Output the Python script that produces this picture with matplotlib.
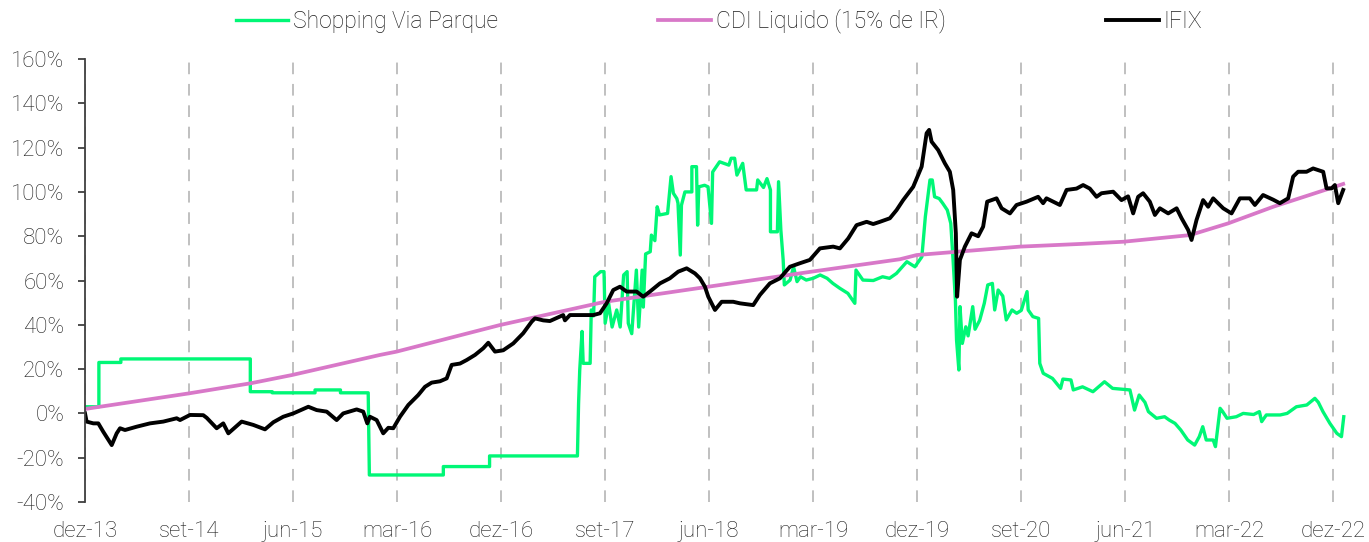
import numpy as np
import matplotlib
matplotlib.use("Agg")
import matplotlib.pyplot as plt
from matplotlib.ticker import FuncFormatter

# months since dez-13, cumulative return in %
via_parque_m = [0.0, 1.2, 1.2, 3.1, 3.1, 14.3, 14.3, 16.2, 16.2, 19.9, 19.9, 22.1, 22.1, 24.5,
                24.6, 31.0, 31.0, 35.0, 35.0, 42.6, 42.7, 42.8, 43.0, 43.1, 43.7, 43.8, 44.0,
                44.1, 44.6, 44.9, 45.0, 45.3, 45.6, 46.0, 46.3, 46.6, 46.9, 47.0, 47.3, 47.7,
                47.9, 48.2, 48.3, 48.5, 48.9, 49.0, 49.3, 49.5, 49.7, 50.4, 50.7, 50.9, 51.2,
                51.3, 51.5, 51.6, 51.9, 52.5, 52.5, 52.9, 53.0, 53.1, 53.6, 53.9, 54.2, 54.3,
                54.9, 55.7, 55.9, 56.2, 56.4, 56.9, 57.2, 58.1, 58.2, 58.7, 59.0, 59.3, 59.3,
                59.9, 60.0, 60.2, 60.4, 60.5, 61.0, 61.3, 61.6, 61.9, 62.4, 63.0, 63.6, 64.2,
                64.7, 65.3, 66.0, 66.6, 66.7, 67.3, 68.2, 69.0, 69.6, 70.2, 71.1, 71.8, 72.4,
                72.7, 73.1, 73.3, 73.5, 73.9, 74.2, 74.6, 74.9, 75.1, 75.3, 75.4, 75.6, 75.7,
                75.9, 76.2, 76.4, 76.8, 77.0, 77.4, 77.8, 78.1, 78.5, 78.7, 79.0, 79.4, 79.7,
                80.2, 80.6, 81.0, 81.5, 81.6, 82.0, 82.5, 82.6, 82.9, 83.7, 84.4, 84.6, 85.3,
                85.5, 86.3, 87.2, 88.2, 88.9, 90.4, 90.8, 91.2, 91.7, 92.0, 92.7, 93.4, 93.8,
                94.3, 94.8, 95.4, 96.0, 96.4, 96.7, 97.0, 97.6, 97.8, 98.2, 98.4, 98.8, 99.6,
                100.2, 101.1, 101.6, 101.8, 102.2, 103.4, 104.0, 104.8, 105.7, 106.4, 106.7,
                107.1, 107.7, 108.3, 108.7, 108.9]
via_parque = [3, 3, 23, 23, 24.6, 24.6, 9.8, 9.8, 9.3, 9.3, 10.6, 10.6, 9.3, 9.3,
              -27.8, -27.8, -24, -24, -19.2, -19.2, 4.5, 19.6, 37, 22.6, 22.6, 46.7, 44,
              61.7, 64, 64, 40.7, 49.7, 39, 46.7, 39, 62.5, 64, 40.7, 36, 64.7,
              39, 64.7, 48, 72, 73, 80.5, 78, 93.3, 89.6, 90.3, 106.9, 99.4, 97,
              94.9, 71.5, 94, 100, 100, 111.4, 111.4, 85, 102.3, 103, 102.3, 85.8, 109,
              113.6, 112.1, 115.2, 115.2, 107.6, 112.9, 100.9, 100.9, 105.4, 102, 106, 100.9, 82,
              82, 104.6, 82.8, 69.3, 58, 60.2, 66.2, 59.5, 61.7, 60.2, 61, 62.5, 61,
              58.7, 56.5, 54.2, 49.7, 64.7, 60.2, 60, 61.7, 61, 63.2, 68.5, 66.2, 70.7,
              88.8, 105.4, 105.4, 97.8, 97, 94.9, 91.8, 85.8, 69.3, 51.2, 33.1, 19.6, 48.2,
              31.6, 39.1, 35, 48.2, 38, 42, 49.7, 58, 58.7, 46.7, 55.7, 53, 42.2,
              46.7, 45.2, 46.5, 55, 46.7, 43.7, 42.9, 22.6, 18.1, 15.8, 11.3, 15.5, 15.1,
              10.6, 12, 9.8, 14.3, 11.3, 10.6, 1.5, 8.3, 5, 0.8, -2.2, -1.5, -3,
              -4.5, -7.5, -12, -14.3, -10.5, -6, -12, -12, -15, 2.3, 1, -2.2, -1.5,
              0, -0.5, 0.8, -3.7, -0.7, -0.7, 0, 3, 3.8, 6.8, 5,
              0.8, -4.5, -9, -10.5, -1.5]

ifix_m = [0.0, 0.14, 0.72, 1.15, 1.58, 2.31, 2.74, 3.03, 3.46, 4.47, 5.62, 6.77, 7.93, 8.22,
          9.08, 10.23, 10.53, 11.39, 11.96, 12.4, 13.55, 14.56, 15.57, 16.29, 17.15, 18.02,
          19.32, 20.04, 20.91, 21.77, 22.34, 23.5, 24.07, 24.42, 24.65, 25.23, 25.8, 26.24,
          26.67, 27.25, 27.97, 28.83, 29.41, 29.99, 30.71, 31.29, 31.72, 32.44, 33.02, 33.74,
          34.45, 34.89, 35.47, 36.18, 37.05, 37.91, 38.64, 38.93, 39.64, 40.22, 41.37, 41.52,
          41.95, 42.82, 43.97, 44.55, 45.13, 45.7, 46.28, 46.86, 47.72, 48.29, 48.87, 49.74,
          50.6, 51.32, 52.05, 52.77, 53.2, 53.63, 53.92, 54.5, 55.08, 56.08, 56.66, 57.81,
          58.39, 59.25, 60.12, 60.98, 61.85, 62.71, 63.58, 64.73, 65.31, 66.03, 66.75, 67.62,
          68.19, 68.77, 69.63, 70.21, 70.78, 71.65, 72.38, 72.81, 73.03, 73.24, 73.81, 74.39,
          74.82, 75.11, 75.34, 75.45, 75.69, 76.12, 76.7, 77.27, 77.7, 78.05, 78.43, 78.86,
          79.3, 80.02, 80.59, 81.46, 82.46, 82.89, 83.18, 84.34, 84.92, 85.78, 86.35, 86.93,
          87.51, 87.94, 88.95, 89.67, 90.24, 90.68, 91.11, 91.54, 92.12, 92.56, 92.99, 93.71,
          94.44, 94.87, 95.44, 95.73, 96.16, 96.73, 97.17, 97.6, 98.47, 99.19, 99.91, 100.77,
          101.21, 101.92, 102.79, 103.37, 104.09, 104.52, 104.95, 105.68, 106.25, 107.12,
          107.41, 107.85, 108.13, 108.42, 108.85]
ifix = [0, -3.7, -4.5, -4.5, -8.3, -14.3, -9, -6.7, -7.5, -6, -4.5, -3.7, -2.2, -3,
        -0.7, -0.8, -2, -6.7, -4.5, -9, -3.7, -5.2, -7.2, -4, -1.5, 0,
        3, 1.5, 0.8, -3, 0, 1.8, 0.8, -4.5, -1.5, -3, -9, -6.5,
        -6.7, -1.5, 3.8, 8.3, 12, 13.9, 14.5, 15.8, 21.9, 22.5, 24.1, 26.4,
        29.4, 31.9, 27.9, 28.5, 31.6, 36.2, 41.4, 42.9, 42, 41.7, 44.4, 42,
        44.4, 44.4, 44.4, 45.2, 49.7, 55.7, 57.2, 55, 55, 52.7, 55, 58.7,
        61, 64, 65.5, 63.2, 61, 57.2, 52.7, 46.7, 50.4, 50.4, 49.7, 48.9,
        53.5, 58.7, 61, 66.2, 67.8, 69.3, 74.5, 75.3, 74.5, 79, 85, 86.5,
        85.5, 86.5, 88.1, 91.8, 96.3, 102.3, 111.4, 126.5, 128, 122.7, 118.9, 112.9,
        109.1, 100.9, 81.3, 52.7, 69.3, 75.3, 81.3, 80, 84.3, 95.6, 96.3, 97.1,
        92.6, 90.3, 94.1, 95.6, 97.8, 94.9, 97.1, 94.1, 100.9, 101.5, 103.1, 101.5,
        97.8, 99.4, 100.1, 96.3, 98, 90.3, 97.8, 99.4, 95.6, 89.6, 92.6, 90.3,
        92.6, 88.1, 82.8, 78.3, 87.3, 96.3, 93.3, 97.1, 92.6, 90.3, 97.1, 97.1,
        94.1, 98.6, 96.5, 94.9, 97.1, 106.9, 109.1, 109.1, 110.6, 109.1,
        101.6, 101.6, 103.1, 94.9, 100.9]

cdi_m = [0.0, 8.94, 14.33, 17.88, 25.52, 26.96, 35.9, 44.98, 53.92, 62.86, 70.5, 71.95,
         80.88, 86.07, 89.82, 95.59, 98.9, 102.8, 107.7, 108.85]
cdi = [2, 9, 13.6, 17.3, 26.4, 27.9, 39.9, 50.4, 57.2, 64, 69.6, 71.5,
       75.3, 76.5, 77.5, 80.5, 85.8, 93.3, 101.6, 103.6]

tick_pos = [0, 9, 18, 27, 36, 45, 54, 63, 72, 81, 90, 99, 108]
tick_lbl = ["dez-13", "set-14", "jun-15", "mar-16", "dez-16", "set-17", "jun-18",
            "mar-19", "dez-19", "set-20", "jun-21", "mar-22", "dez-22"]

plt.rcParams["font.family"] = ["Roboto", "DejaVu Sans"]
plt.rcParams["font.weight"] = "light"

fig = plt.figure(figsize=(13.69, 5.42), dpi=100)
ax = fig.add_axes([0.0621, 0.0738, 0.922, 0.8173])

ax.plot(via_parque_m, via_parque, color="#00F776", lw=2.4, label="Shopping Via Parque")
ax.plot(cdi_m, cdi, color="#D878C8", lw=2.7, label="CDI Liquido (15% de IR)")
ax.plot(ifix_m, ifix, color="black", lw=2.8, label="IFIX")

ax.set_xlim(0, 109.2)
ax.set_ylim(-40, 160)
ax.set_yticks(np.arange(-40, 161, 20))
ax.yaxis.set_major_formatter(FuncFormatter(lambda v, p: f"{v:.0f}%"))
ax.set_xticks(tick_pos)
ax.set_xticklabels(tick_lbl)

for s in ["top", "right", "bottom"]:
    ax.spines[s].set_visible(False)
ax.spines["left"].set_color("#404040")
ax.spines["left"].set_linewidth(1.3)

ax.tick_params(axis="y", length=5, width=1.3, color="#404040", labelsize=16,
               labelcolor="#1e1e1e", pad=10)
ax.tick_params(axis="x", length=0, labelsize=16, labelcolor="#1e1e1e", pad=14)

ax.xaxis.grid(True, color="#c0c0c0", lw=1.4, dashes=(6, 5))
ax.set_axisbelow(True)

leg = fig.legend(loc="upper center", bbox_to_anchor=(0.525, 1.022), ncol=3, frameon=False,
                 fontsize=16.5, handlelength=2.3, handletextpad=0.2, columnspacing=7.0)
for t in leg.get_texts():
    t.set_color("#1e1e1e")

fig.savefig("out.png", dpi=100)
